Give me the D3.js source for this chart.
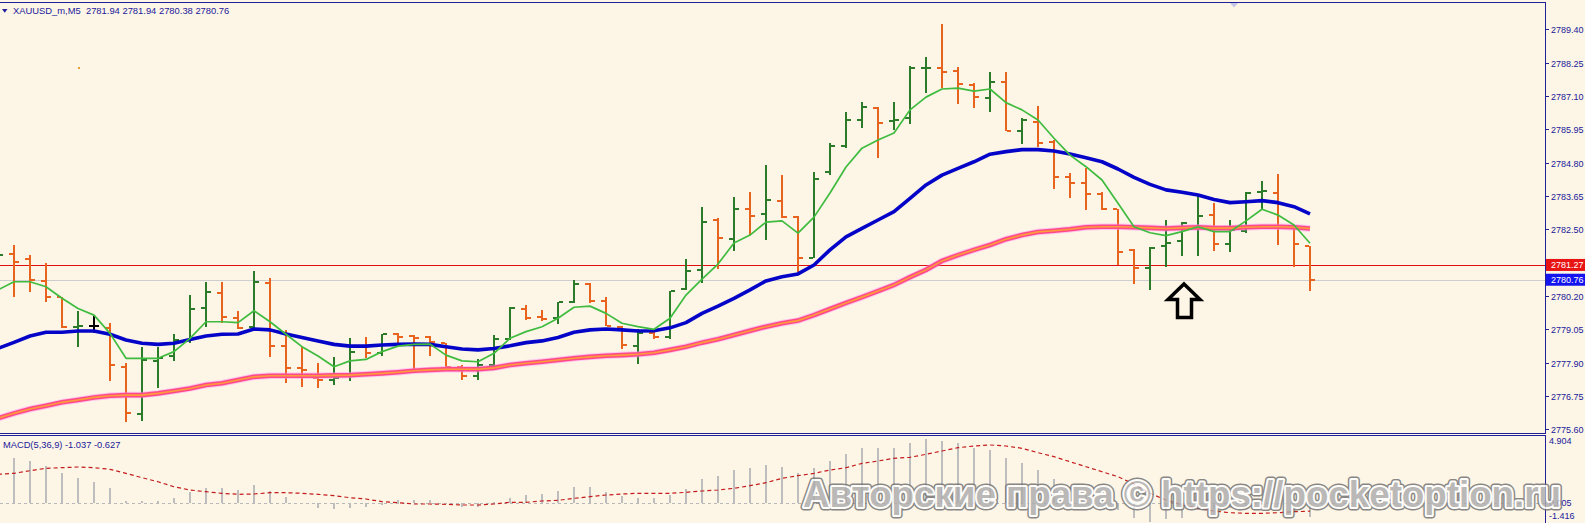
<!DOCTYPE html>
<html><head><meta charset="utf-8">
<script src="https://cdn.jsdelivr.net/npm/d3@7"></script>
<style>html,body{margin:0;padding:0;background:#fdf5e6;overflow:hidden}</style>
</head><body><svg id="c" width="1585" height="523"></svg>
<script>
// ---------- DATA ----------
const symbolTitle = "XAUUSD_m,M5  2781.94 2781.94 2780.38 2780.76";
const macdTitle = "MACD(5,36,9) -1.037 -0.627";
const priceTicks = [2789.40, 2788.25, 2787.10, 2785.95, 2784.80, 2783.65, 2782.50, 2780.20, 2779.05, 2777.90, 2776.75, 2775.60];
const macdTicks = [4.904, 0.005, -1.416];
const bidPrice = 2781.27;
const lastPrice = 2780.76;

const opens = [2781.27,2781.65,2781.47,2780.72,2780.16,2779.13,2779.16,2779.09,2777.75,2776.13,2777.96,2778.13,2778.68,2779.78,2780.30,2779.44,2779.13,2780.65,2778.47,2777.71,2777.37,2777.30,2777.47,2778.44,2778.23,2778.89,2778.82,2778.78,2778.58,2777.75,2777.44,2777.82,2778.71,2779.75,2779.47,2779.44,2779.99,2780.61,2780.03,2779.13,2778.47,2778.92,2778.78,2780.44,2781.10,2782.82,2782.16,2783.20,2783.03,2783.48,2782.92,2781.51,2784.48,2785.37,2786.27,2786.68,2786.24,2786.34,2788.05,2788.06,2787.96,2787.48,2787.03,2787.58,2785.89,2786.20,2785.51,2784.30,2784.10,2783.72,2783.20,2781.79,2781.16,2781.92,2782.10,2782.58,2782.99,2781.99,2782.44,2783.79,2783.75,2782.61,2781.94];
const highs = [2782.13,2781.96,2781.61,2781.34,2780.16,2779.68,2779.51,2779.27,2777.89,2778.44,2778.44,2778.89,2780.23,2780.68,2780.68,2779.68,2781.06,2780.82,2779.03,2778.44,2777.89,2778.09,2778.75,2778.78,2778.89,2778.92,2778.85,2778.82,2778.58,2777.82,2778.02,2778.85,2779.82,2779.89,2779.72,2779.99,2780.75,2780.65,2780.16,2779.16,2779.06,2779.03,2780.37,2781.47,2783.27,2782.89,2783.61,2783.79,2784.72,2784.37,2782.96,2784.48,2785.48,2786.55,2786.89,2786.72,2786.89,2788.13,2788.44,2789.58,2788.10,2787.55,2787.93,2787.93,2786.34,2786.75,2785.58,2784.44,2784.61,2783.79,2783.20,2781.82,2781.89,2782.82,2782.75,2783.68,2783.41,2782.82,2783.79,2784.17,2784.41,2782.65,2781.94];
const lows = [2781.10,2780.16,2780.34,2779.99,2779.09,2778.44,2778.92,2777.27,2775.85,2775.89,2777.02,2777.96,2778.58,2779.13,2779.27,2779.06,2779.09,2778.09,2777.20,2777.06,2777.02,2777.13,2777.27,2778.06,2778.13,2778.51,2777.54,2778.13,2777.75,2777.30,2777.30,2777.78,2778.68,2779.37,2779.34,2779.23,2779.96,2779.96,2779.16,2778.37,2777.85,2778.71,2778.71,2780.41,2780.65,2781.13,2781.75,2782.30,2782.13,2782.89,2781.03,2781.51,2784.37,2785.30,2786.00,2784.96,2785.93,2786.13,2787.20,2787.37,2786.82,2786.68,2786.55,2785.89,2785.44,2785.34,2783.89,2783.58,2783.17,2783.17,2781.27,2780.61,2780.41,2781.20,2781.58,2781.58,2781.75,2781.72,2782.37,2783.17,2781.96,2781.20,2780.38];
const closes = [2781.61,2781.37,2780.75,2780.16,2779.13,2779.16,2779.16,2777.82,2776.16,2777.99,2778.06,2778.68,2779.75,2780.34,2779.47,2779.09,2780.68,2778.47,2777.71,2777.65,2777.30,2777.37,2778.27,2778.23,2778.89,2778.78,2778.75,2778.61,2777.75,2777.44,2777.82,2778.71,2779.78,2779.44,2779.40,2779.99,2780.61,2780.03,2779.16,2778.51,2778.92,2778.78,2780.37,2781.06,2782.75,2782.20,2783.20,2782.96,2783.51,2782.92,2781.51,2784.23,2785.37,2786.27,2786.72,2786.17,2786.27,2788.06,2788.06,2787.93,2787.51,2787.06,2787.58,2785.89,2786.27,2785.48,2784.30,2784.10,2783.72,2783.20,2781.72,2781.16,2781.85,2782.03,2782.72,2782.96,2781.99,2782.48,2783.75,2783.82,2782.61,2781.99,2780.76];

const maFast = [2780.41,2780.69,2780.69,2780.52,2780.12,2779.77,2779.54,2778.91,2778.05,2778.05,2778.05,2778.28,2778.74,2779.31,2779.31,2779.28,2779.69,2779.31,2778.88,2778.45,2778.13,2777.76,2777.96,2778.01,2778.28,2778.47,2778.53,2778.54,2778.16,2777.96,2777.93,2778.22,2778.74,2778.97,2779.14,2779.43,2779.81,2779.85,2779.60,2779.26,2779.14,2779.05,2779.43,2780.23,2780.78,2781.30,2782.03,2782.30,2782.75,2782.79,2782.37,2782.92,2783.75,2784.65,2785.30,2785.58,2785.82,2786.62,2787.06,2787.34,2787.37,2787.27,2787.34,2786.87,2786.62,2786.27,2785.64,2785.06,2784.66,2784.20,2783.40,2782.59,2782.38,2782.28,2782.42,2782.59,2782.42,2782.42,2782.79,2783.19,2782.99,2782.65,2782.02];
const maMid = [2778.39,2778.60,2778.82,2778.95,2778.95,2778.99,2778.99,2778.88,2778.68,2778.57,2778.53,2778.57,2778.70,2778.82,2778.88,2778.89,2779.06,2779.03,2778.89,2778.77,2778.65,2778.53,2778.47,2778.47,2778.51,2778.53,2778.54,2778.53,2778.45,2778.37,2778.34,2778.39,2778.48,2778.59,2778.65,2778.77,2778.95,2779.03,2779.06,2779.03,2778.99,2779.00,2779.10,2779.28,2779.60,2779.85,2780.12,2780.41,2780.72,2780.86,2780.96,2781.27,2781.79,2782.24,2782.53,2782.82,2783.11,2783.57,2784.03,2784.37,2784.60,2784.83,2785.09,2785.18,2785.25,2785.25,2785.20,2785.10,2784.97,2784.83,2784.58,2784.29,2784.05,2783.86,2783.78,2783.68,2783.53,2783.42,2783.45,2783.49,2783.42,2783.28,2783.03];
const maSlow = [2775.98,2776.15,2776.30,2776.41,2776.53,2776.61,2776.70,2776.76,2776.78,2776.78,2776.84,2776.92,2777.01,2777.13,2777.19,2777.30,2777.41,2777.45,2777.45,2777.45,2777.45,2777.46,2777.47,2777.50,2777.53,2777.57,2777.62,2777.65,2777.67,2777.67,2777.67,2777.72,2777.82,2777.88,2777.93,2777.99,2778.05,2778.10,2778.14,2778.16,2778.19,2778.24,2778.34,2778.45,2778.59,2778.71,2778.85,2779.00,2779.14,2779.26,2779.35,2779.54,2779.75,2779.96,2780.16,2780.37,2780.58,2780.85,2781.10,2781.41,2781.61,2781.79,2781.96,2782.16,2782.30,2782.41,2782.45,2782.50,2782.57,2782.59,2782.59,2782.57,2782.55,2782.53,2782.55,2782.57,2782.54,2782.54,2782.57,2782.59,2782.59,2782.57,2782.53];

const macdHist = [3.50,3.425,3.241,2.858,2.322,1.939,1.632,1.126,0.153,0.153,0.13,0.360,0.820,1.172,1.172,0.996,1.379,0.943,0.437,0.02,-0.360,-0.483,-0.360,-0.284,-0.153,0.207,0.230,0.207,-0.100,-0.330,-0.330,0.05,0.406,0.613,0.690,0.920,1.203,1.203,0.866,0.559,0.360,0.360,0.613,1.073,1.839,2.069,2.529,2.659,2.912,2.736,2.276,2.659,3.218,3.755,4.192,4.192,4.192,4.575,4.904,4.751,4.575,4.238,4.061,3.42,3.04,2.53,1.84,1.20,0.62,0.15,-0.55,-1.17,-1.416,-1.20,-1.17,-0.50,-0.45,-0.35,-0.20,-0.15,-0.30,-0.50,-1.037];
const macdSignal = [2.199,2.276,2.475,2.659,2.705,2.759,2.705,2.582,2.276,1.939,1.632,1.249,0.996,0.866,0.743,0.667,0.690,0.789,0.789,0.743,0.667,0.559,0.406,0.307,0.100,0.023,-0.077,-0.077,-0.100,-0.153,-0.153,-0.077,0.054,0.054,0.153,0.207,0.360,0.483,0.613,0.690,0.743,0.743,0.743,0.820,0.920,0.996,1.126,1.326,1.556,1.893,2.092,2.276,2.529,2.705,3.042,3.218,3.425,3.502,3.732,3.985,4.238,4.368,4.444,4.368,4.192,3.854,3.548,3.165,2.782,2.398,2.015,1.456,0.743,0.230,-0.153,-0.406,-0.613,-0.743,-0.789,-0.789,-0.743,-0.667,-0.627];

const barIndex = d3.range(opens.length);

// ---------- DRAW ----------
const W = 1585, H = 523, AXX = 1545;
const BG = "#fdf5e6", FRAME = "#20209a";
const svg = d3.select("#c");
svg.append("rect").attr("width", W).attr("height", H).attr("fill", BG);

const x = d3.scaleLinear().domain([0, opens.length - 1]).range([-2, 1310]);
const y = d3.scaleLinear().domain([2775.60, 2789.40]).range([429.3, 29.3]);
const ym = d3.scaleLinear().domain([-1.416, 4.904]).range([521.5, 439.0]);

const defs = svg.append("defs");
defs.append("clipPath").attr("id", "cm").append("rect").attr("x", 0).attr("y", 3).attr("width", AXX).attr("height", 430);
defs.append("clipPath").attr("id", "cd").append("rect").attr("x", 0).attr("y", 436).attr("width", AXX).attr("height", 87);

const main = svg.append("g").attr("clip-path", "url(#cm)");

// price lines
main.append("line").attr("x1", 0).attr("x2", AXX).attr("y1", Math.round(y(lastPrice)) + 0.5).attr("y2", Math.round(y(lastPrice)) + 0.5)
  .attr("stroke", "#cdcdcd").attr("stroke-width", 1);
main.append("line").attr("x1", 0).attr("x2", AXX).attr("y1", Math.round(y(bidPrice)) + 0.5).attr("y2", Math.round(y(bidPrice)) + 0.5)
  .attr("stroke", "#e01010").attr("stroke-width", 1);

// OHLC bars
const bars = barIndex.map(i => ({i, o: opens[i], h: highs[i], l: lows[i], c: closes[i]}));
const colorOf = d => d.c > d.o ? "#2b7b2b" : (d.c < d.o ? "#e8641e" : "#000000");
const bg = main.append("g").attr("shape-rendering", "crispEdges");
bars.forEach(d => {
  const cx = Math.round(x(d.i));
  const col = colorOf(d);
  const yh = y(d.h), yl = y(d.l), yo = y(d.o), yc = y(d.c);
  bg.append("rect").attr("x", cx - 1).attr("y", yh).attr("width", 2).attr("height", Math.max(1, yl - yh)).attr("fill", col);
  bg.append("rect").attr("x", cx - 5).attr("y", yo - 1).attr("width", 4).attr("height", 2).attr("fill", col);
  bg.append("rect").attr("x", cx + 1).attr("y", yc - 1).attr("width", 4).attr("height", 2).attr("fill", col);
});

// moving averages
const lineP = arr => d3.line().x((v, i) => x(i)).y(v => y(v))(arr);
main.append("path").attr("d", lineP(maSlow)).attr("fill", "none").attr("stroke", "#ff88ff").attr("stroke-width", 6.5).attr("stroke-opacity", 0.45);
main.append("path").attr("d", lineP(maSlow)).attr("fill", "none").attr("stroke", "#ff4a88").attr("stroke-width", 4.6);
main.append("path").attr("d", lineP(maSlow)).attr("fill", "none").attr("stroke", "#ff9b3a").attr("stroke-width", 1.6);
main.append("path").attr("d", lineP(maMid)).attr("fill", "none").attr("stroke", "#0404c8").attr("stroke-width", 3.6).attr("stroke-linejoin", "round");
main.append("path").attr("d", lineP(maFast)).attr("fill", "none").attr("stroke", "#3fbc3f").attr("stroke-width", 1.7).attr("stroke-linejoin", "round");

// annotations: arrow, marker dot, shift marker
svg.append("path").attr("d", "M1184,284 L1200,299.5 L1191.5,299.5 L1191.5,317.5 L1177.5,317.5 L1177.5,299.5 L1168,299.5 Z")
  .attr("fill", BG).attr("stroke", "#000").attr("stroke-width", 3.5).attr("stroke-linejoin", "miter");
svg.append("rect").attr("x", 78).attr("y", 67).attr("width", 2).attr("height", 2).attr("fill", "#e8a030");
svg.append("path").attr("d", "M1230,3 L1238,3 L1234,7.5 Z").attr("fill", "#c4c6e6");

// ---------- MACD ----------
const md = svg.append("g").attr("clip-path", "url(#cd)");
md.append("line").attr("x1", 0).attr("x2", AXX).attr("y1", Math.round(ym(0)) + 0.5).attr("y2", Math.round(ym(0)) + 0.5)
  .attr("stroke", "#b8b8b8").attr("stroke-width", 1).attr("stroke-dasharray", "3,3");
const hg = md.append("g").attr("shape-rendering", "crispEdges");
macdHist.forEach((v, i) => {
  const cx = Math.round(x(i));
  const y0 = ym(0), y1 = ym(v);
  hg.append("rect").attr("x", cx - 1).attr("y", Math.min(y0, y1)).attr("width", 2).attr("height", Math.max(1, Math.abs(y1 - y0)))
    .attr("fill", "#bdbdbd");
});
md.append("path").attr("d", d3.line().x((v, i) => x(i)).y(v => ym(v))(macdSignal))
  .attr("fill", "none").attr("stroke", "#c41c1c").attr("stroke-width", 1.2).attr("stroke-dasharray", "4,3");

// ---------- FRAME & AXES ----------
const fr = svg.append("g").attr("shape-rendering", "crispEdges").attr("stroke", FRAME).attr("stroke-width", 1);
fr.append("line").attr("x1", 0).attr("x2", AXX).attr("y1", 2.5).attr("y2", 2.5);
fr.append("line").attr("x1", 0).attr("x2", AXX).attr("y1", 433.5).attr("y2", 433.5);
fr.append("line").attr("x1", 0).attr("x2", AXX).attr("y1", 435.5).attr("y2", 435.5);
fr.append("line").attr("x1", AXX + 0.5).attr("x2", AXX + 0.5).attr("y1", 2).attr("y2", 434);
fr.append("line").attr("x1", AXX + 0.5).attr("x2", AXX + 0.5).attr("y1", 435).attr("y2", H);

const FONT = "'Liberation Sans', Arial, sans-serif";
const ax = svg.append("g");
priceTicks.forEach(t => {
  const ty = Math.round(y(t)) + 0.5;
  ax.append("line").attr("x1", AXX).attr("x2", AXX + 4).attr("y1", ty).attr("y2", ty).attr("stroke", FRAME).attr("shape-rendering", "crispEdges");
  ax.append("text").attr("x", AXX + 6).attr("y", ty + 3.5).attr("font-family", FONT).attr("font-size", 9).attr("fill", FRAME).text(t.toFixed(2));
});
// price labels
[[bidPrice, "#e81414"], [lastPrice, "#1414ee"]].forEach(([p, col]) => {
  const py = y(p);
  ax.append("rect").attr("x", AXX + 1).attr("y", py - 6).attr("width", W - AXX - 1).attr("height", 12).attr("fill", col);
  ax.append("text").attr("x", AXX + 6).attr("y", py + 3.5).attr("font-family", FONT).attr("font-size", 9).attr("fill", "#fff").text(p.toFixed(2));
});
// MACD labels
const macdLabelY = [ym(4.904) + 5, ym(0.005) + 3.5, ym(-1.416) - 3];
macdTicks.forEach((t, k) => {
  ax.append("text").attr("x", AXX + 4).attr("y", macdLabelY[k]).attr("font-family", FONT).attr("font-size", 9).attr("fill", FRAME).text(t.toFixed(3));
});

// titles
svg.append("path").attr("d", "M2,9 L7.5,9 L4.75,12.8 Z").attr("fill", FRAME);
svg.append("text").attr("x", 13).attr("y", 14).attr("font-family", FONT).attr("font-size", 9.4).attr("fill", FRAME)
  .style("white-space", "pre").text(symbolTitle);
svg.append("text").attr("x", 3).attr("y", 447.5).attr("font-family", FONT).attr("font-size", 9.3).attr("fill", FRAME).text(macdTitle);

// ---------- WATERMARK ----------
const wm = svg.append("g").attr("opacity", 0.82);
const wmText = "Авторские права © https://pocketoption.ru";
const addWm = (stroke, sw, fill) => wm.append("text").attr("x", 803).attr("y", 507).attr("font-family", FONT)
  .attr("font-weight", "bold").attr("font-size", 37).attr("textLength", 758).attr("lengthAdjust", "spacingAndGlyphs")
  .attr("fill", fill).attr("stroke", stroke).attr("stroke-width", sw).attr("stroke-linejoin", "round").text(wmText);
addWm("#6f6f6f", 7, "#6f6f6f");
addWm("#ffffff", 4, "#ffffff");
addWm("none", 0, "#adadad");
</script></body></html>
